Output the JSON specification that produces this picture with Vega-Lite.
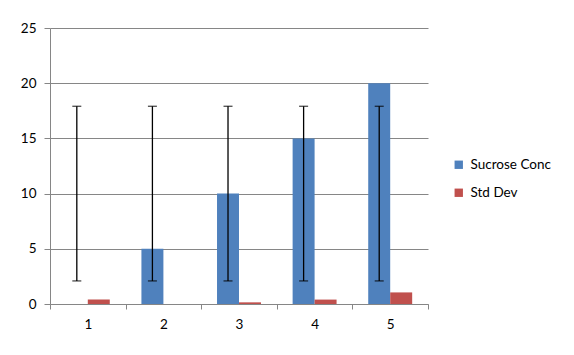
{
  "$schema": "https://vega.github.io/schema/vega-lite/v6.json",
  "width": 378,
  "height": 276,
  "autosize": {"type": "none"},
  "padding": {"left": 50, "top": 28, "right": 146, "bottom": 51},
  "background": "white",
  "config": {
    "font": "Lato",
    "view": {"stroke": null},
    "axis": {"labelFont": "Lato", "labelFontSize": 13.5, "labelColor": "#000000", "domainColor": "#868686", "tickColor": "#868686", "gridColor": "#868686", "title": null},
    "legend": {"labelFont": "Lato", "labelFontSize": 13.5, "labelColor": "#000000"}
  },
  "datasets": {
    "bars": [
      {"cat": "1", "series": "Sucrose Conc", "value": 0},
      {"cat": "1", "series": "Std Dev", "value": 0.4},
      {"cat": "2", "series": "Sucrose Conc", "value": 5},
      {"cat": "2", "series": "Std Dev", "value": 0},
      {"cat": "3", "series": "Sucrose Conc", "value": 10},
      {"cat": "3", "series": "Std Dev", "value": 0.15},
      {"cat": "4", "series": "Sucrose Conc", "value": 15},
      {"cat": "4", "series": "Std Dev", "value": 0.4},
      {"cat": "5", "series": "Sucrose Conc", "value": 20},
      {"cat": "5", "series": "Std Dev", "value": 1.05}
    ],
    "errs": [
      {"cat": "1", "lo": 2.09, "hi": 17.91},
      {"cat": "2", "lo": 2.09, "hi": 17.91},
      {"cat": "3", "lo": 2.09, "hi": 17.91},
      {"cat": "4", "lo": 2.09, "hi": 17.91},
      {"cat": "5", "lo": 2.09, "hi": 17.91}
    ]
  },
  "layer": [
    {
      "data": {"name": "bars"},
      "mark": {"type": "bar"},
      "encoding": {
        "x": {"field": "cat", "type": "nominal", "scale": {"paddingInner": 0, "paddingOuter": 0},
              "axis": {"labelAngle": 0, "tickBand": "extent", "tickSize": 5, "labelPadding": 8, "grid": false, "domainWidth": 1}},
        "xOffset": {"field": "series", "type": "nominal", "scale": {"domain": ["Sucrose Conc", "Std Dev"], "paddingInner": 0, "paddingOuter": 0.72}},
        "y": {"field": "value", "type": "quantitative", "scale": {"domain": [0, 25], "nice": false},
              "axis": {"values": [0, 5, 10, 15, 20, 25], "tickSize": 6, "labelPadding": 8, "grid": true, "gridWidth": 1}},
        "color": {"field": "series", "type": "nominal",
                  "scale": {"domain": ["Sucrose Conc", "Std Dev"], "range": ["#4F81BD", "#C0504D"]},
                  "legend": {"title": null, "orient": "none", "legendX": 402, "legendY": 130, "symbolType": "square", "symbolSize": 70, "symbolStrokeWidth": 0, "labelOffset": 5, "rowPadding": 13}}
      }
    },
    {
      "data": {"name": "errs"},
      "mark": {"type": "rule", "color": "black", "strokeWidth": 1.3},
      "encoding": {
        "x": {"field": "cat", "type": "nominal"},
        "xOffset": {"datum": "Sucrose Conc"},
        "y": {"field": "lo", "type": "quantitative"},
        "y2": {"field": "hi"}
      }
    },
    {
      "data": {"name": "errs"},
      "mark": {"type": "tick", "color": "black", "size": 9, "thickness": 1.3, "orient": "horizontal"},
      "encoding": {
        "x": {"field": "cat", "type": "nominal"},
        "xOffset": {"datum": "Sucrose Conc"},
        "y": {"field": "lo", "type": "quantitative"}
      }
    },
    {
      "data": {"name": "errs"},
      "mark": {"type": "tick", "color": "black", "size": 9, "thickness": 1.3, "orient": "horizontal"},
      "encoding": {
        "x": {"field": "cat", "type": "nominal"},
        "xOffset": {"datum": "Sucrose Conc"},
        "y": {"field": "hi", "type": "quantitative"}
      }
    }
  ]
}
